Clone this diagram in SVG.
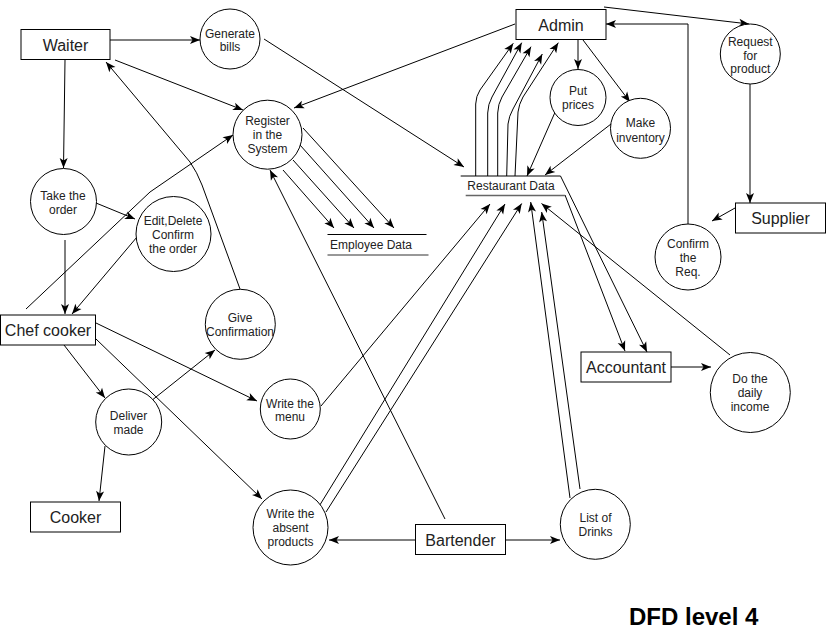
<svg xmlns="http://www.w3.org/2000/svg" width="826" height="631" viewBox="0 0 826 631">
<defs>
<marker id="arr" markerUnits="userSpaceOnUse" markerWidth="10" markerHeight="8" refX="10" refY="4" orient="auto" overflow="visible">
<path d="M0,0 L10,4 L0,8 L2.5,4 Z" fill="#000"/>
</marker>
</defs>
<style>
.e{fill:none;stroke:#000;stroke-width:1;marker-end:url(#arr)}
.l{fill:none;stroke:#000;stroke-width:1}
.c{fill:#fff;stroke:#000;stroke-width:1}
.r{fill:#fff;stroke:#000;stroke-width:1}
.t{font-family:"Liberation Sans",Arial,sans-serif;font-size:12px;fill:#222;text-anchor:middle}
.big{font-family:"Liberation Sans",Arial,sans-serif;font-size:16px;fill:#222;text-anchor:middle}
</style>
<rect width="826" height="631" fill="#fff"/>
<g id="connectors">
<path class="e" d="M110,40 L200,40"/>
<path class="e" d="M115,60 L243,110"/>
<path class="e" d="M65,60 L63.5,168"/>
<path class="e" d="M240,289 L202,185 Q197,172 190,162 L106,62"/>
<path class="e" d="M26,309 L150,192 L233,135"/>
<path class="e" d="M96,203 L135,219"/>
<path class="e" d="M65,240 L65,314"/>
<path class="e" d="M137,237 L72,314"/>
<path class="e" d="M64,345 L105,398"/>
<path class="e" d="M151,401 L215,350"/>
<path class="e" d="M96,323 L257,401"/>
<path class="e" d="M96,339 L262,499"/>
<path class="e" d="M105,446 L99,501"/>
<path class="e" d="M283,170 L334,228"/>
<path class="e" d="M293,160 L354,228"/>
<path class="e" d="M300,145 L374,228"/>
<path class="e" d="M303,128 L394,228"/>
<path class="e" d="M445,519 L270,170"/>
<path class="e" d="M264,39 L464,167"/>
<path class="e" d="M515,24 L294,108"/>
<path class="e" d="M475.7,176 L475.7,104 Q476,96 480,90 L513.3,43.3"/>
<path class="e" d="M487.7,176 L487.7,113 Q488,104 492,97 L521.7,42.7"/>
<path class="e" d="M497.7,176 L497.7,113 Q498,104 502,97 L531,46.7"/>
<path class="e" d="M506.7,176 L508,124 Q509,116 513,109 L542.3,54"/>
<path class="e" d="M515,176 L518,112 Q519,104 523,97 L558.3,42.7"/>
<path class="e" d="M578,39 L578,69"/>
<path class="e" d="M583,40 L630,102"/>
<path class="e" d="M556,110 L527,176"/>
<path class="e" d="M611,124 L545,175"/>
<path class="e" d="M604,7 L749,24"/>
<path class="e" d="M688,225 L688,24 L606,24"/>
<path class="e" d="M750,84 L750,203"/>
<path class="e" d="M735,208 L712,221"/>
<path class="e" d="M560.5,176 L647,352"/>
<path class="e" d="M565,195 L625,351"/>
<path class="e" d="M671,367 L711,367"/>
<path class="e" d="M730,355 L541.5,203.5"/>
<path class="e" d="M570,498 L530.7,202"/>
<path class="e" d="M580,489 L541.7,212"/>
<path class="e" d="M321,406 L490,204"/>
<path class="e" d="M318,508 L505,204"/>
<path class="e" d="M326,512 L521.7,203.5"/>
<path class="e" d="M415,540 L329,540"/>
<path class="e" d="M506,540 L560,540"/>
</g>
<g id="restaurant-data">
<line class="l" x1="460.7" y1="176" x2="560.5" y2="176"/>
<line x1="465.7" y1="195.5" x2="565" y2="195.5" stroke="#666" stroke-width="1.6"/>
<text class="t" x="511" y="190">Restaurant Data</text>
</g>
<g id="employee-data">
<line class="l" x1="327.5" y1="234.5" x2="426.5" y2="234.5"/>
<line x1="327.5" y1="255" x2="428.5" y2="255" stroke="#333" stroke-width="1.2"/>
<text class="t" x="371" y="249">Employee Data</text>
</g>
<g id="waiter"><rect class="r" x="21" y="29.5" width="89" height="30"/><text class="big" x="65.5" y="50.5">Waiter</text></g>
<g id="admin"><rect class="r" x="516" y="9.5" width="90" height="30"/><text class="big" x="561" y="30.5">Admin</text></g>
<g id="supplier"><rect class="r" x="735.5" y="203" width="90" height="30"/><text class="big" x="780.5" y="224">Supplier</text></g>
<g id="chef-cooker"><rect class="r" x="0.5" y="315" width="95" height="30"/><text class="big" x="48" y="336">Chef cooker</text></g>
<g id="accountant"><rect class="r" x="581" y="352" width="90" height="30"/><text class="big" x="626" y="373">Accountant</text></g>
<g id="cooker"><rect class="r" x="30.5" y="502" width="90" height="30"/><text class="big" x="75.5" y="523">Cooker</text></g>
<g id="bartender"><rect class="r" x="415.5" y="524.5" width="90" height="30"/><text class="big" x="460.5" y="545.5">Bartender</text></g>
<g id="generate-bills"><circle class="c" cx="230" cy="39" r="30"/><text class="t" x="230" y="37.5">Generate</text><text class="t" x="230" y="51">bills</text></g>
<g id="register"><circle class="c" cx="267.5" cy="134.7" r="34.5"/><text class="t" x="267.5" y="125.3">Register</text><text class="t" x="267.5" y="139">in the</text><text class="t" x="267.5" y="152.6">System</text></g>
<g id="take-order"><circle class="c" cx="63.5" cy="201.5" r="33"/><text class="t" x="63" y="200">Take the</text><text class="t" x="63" y="214">order</text></g>
<g id="edit-delete"><circle class="c" cx="173.5" cy="234" r="37.5"/><text class="t" x="173" y="225">Edit,Delete</text><text class="t" x="173" y="239">Confirm</text><text class="t" x="173" y="253">the order</text></g>
<g id="give-confirmation"><circle class="c" cx="240.3" cy="324.3" r="35"/><text class="t" x="240" y="321.5">Give</text><text class="t" x="240" y="335.5">Confirmation</text></g>
<g id="deliver-made"><circle class="c" cx="128.7" cy="422" r="33"/><text class="t" x="128.5" y="420">Deliver</text><text class="t" x="128.5" y="434">made</text></g>
<g id="write-menu"><circle class="c" cx="290.3" cy="409" r="30"/><text class="t" x="290" y="407.5">Write the</text><text class="t" x="290" y="421">menu</text></g>
<g id="write-absent"><circle class="c" cx="290.5" cy="527.5" r="37.5"/><text class="t" x="290.5" y="517.5">Write the</text><text class="t" x="290.5" y="531.5">absent</text><text class="t" x="290.5" y="545.5">products</text></g>
<g id="list-drinks"><circle class="c" cx="595.3" cy="524.3" r="35"/><text class="t" x="595.5" y="522">List of</text><text class="t" x="595.5" y="536">Drinks</text></g>
<g id="put-prices"><circle class="c" cx="578" cy="97.5" r="28"/><text class="t" x="578" y="94.5">Put</text><text class="t" x="578" y="109">prices</text></g>
<g id="make-inventory"><circle class="c" cx="640.5" cy="128.3" r="30"/><text class="t" x="640.5" y="127">Make</text><text class="t" x="640.5" y="141.5">inventory</text></g>
<g id="request-product"><circle class="c" cx="750.3" cy="54" r="30"/><text class="t" x="750.3" y="46">Request</text><text class="t" x="750.3" y="59.5">for</text><text class="t" x="750.3" y="73">product</text></g>
<g id="confirm-req"><circle class="c" cx="688" cy="257" r="33"/><text class="t" x="688" y="248">Confirm</text><text class="t" x="688" y="262">the</text><text class="t" x="688" y="276">Req.</text></g>
<g id="daily-income"><circle class="c" cx="750.3" cy="392.5" r="40"/><text class="t" x="750" y="383">Do the</text><text class="t" x="750" y="397">daily</text><text class="t" x="750" y="411">income</text></g>
<text x="629" y="625" font-family="'Liberation Sans',Arial,sans-serif" font-size="24" font-weight="bold" fill="#000">DFD level 4</text>
</svg>
